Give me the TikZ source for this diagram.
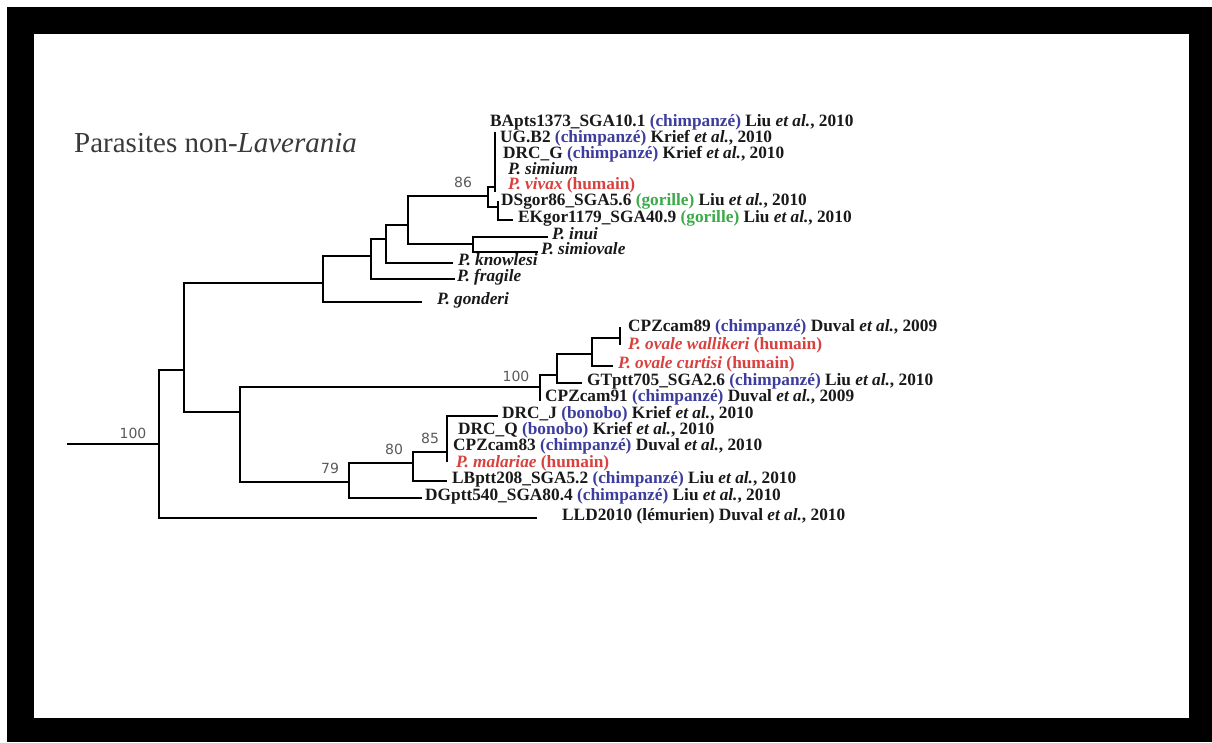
\documentclass[tikz,border=0pt]{standalone}
\usepackage{fontspec}
\setmainfont{Liberation Serif}
\newfontfamily\bsfont{DejaVu Sans}
\definecolor{chimp}{HTML}{3D3D9E}
\definecolor{hum}{HTML}{D9413F}
\definecolor{gor}{HTML}{3DAA4A}
\definecolor{ttlgray}{HTML}{3A3A3A}
\definecolor{bsgray}{HTML}{5A5A5A}
\newcommand{\etal}{\textit{et al.}}
\newcommand{\cz}{{\color{chimp}(chimpanzé)}}
\newcommand{\bo}{{\color{chimp}(bonobo)}}
\newcommand{\go}{{\color{gor}(gorille)}}
\newcommand{\pl}[1]{\textit{P. #1}}
\newcommand{\hu}[1]{{\color{hum}\pl{#1} (humain)}}
\tikzset{br/.style = {line width=2.8pt, line join=miter},
    lf/.style = {anchor=west, inner sep=0pt, text height=0.62em, text depth=0.14em,
                 font=\bfseries\fontsize{17.3}{18}\selectfont, text=black!90},
    bv/.style = {font=\bsfont\fontsize{14}{14}\selectfont, text=bsgray},
    nd/.style = {coordinate}}

\begin{document}
\begin{tikzpicture}[x=1pt, y=-1pt]
        \fill[white] (0,0) rectangle (1212,742);
        \fill[black] (7,7) rectangle (1212,742);
        \fill[white] (34,34) rectangle (1189,718);
        \useasboundingbox (0,0) rectangle (1212,742);

        \node[anchor=west, inner sep=0pt, font=\fontsize{29}{30}\selectfont, text=ttlgray]
            (title) at (74,143) {Parasites non-\textit{Laverania}};

        % internal nodes
        \foreach \n/\x/\y in {r0/67/444, r/159/444, A/184/370, P/323/283, P1/371/256,
                P2/386/239, P3/408/225, I/473/244, n86/488/196, vj/495/187, vt/495/132,
                vb/495/192, dj/498/207, dt/498/201, O/240/412, n100/540/387, n100b/540/401,
                O1/557/375, O2/592/354, O3/620/338, o3t/620/327, o3b/620/345,
                n79/349/482, n80/413/463, n85/447/452, n85b/447/462}
            \node[nd] (\n) at (\x,\y) {};

        % leaves
        \foreach \n/\x/\y/\t in {
                bap/490/124/{BApts1373\_SGA10.1 \cz{} Liu \etal, 2010},
                ugb/500/140/{UG.B2 \cz{} Krief \etal, 2010},
                drg/503/156/{DRC\_G \cz{} Krief \etal, 2010},
                sim/508/172/{\pl{simium}},
                viv/508/187/{\hu{vivax}},
                dsg/501/203/{DSgor86\_SGA5.6 \go{} Liu \etal, 2010},
                ekg/518/220/{EKgor1179\_SGA40.9 \go{} Liu \etal, 2010},
                inu/552/237/{\pl{inui}},
                smv/541/252/{\pl{simiovale}},
                kno/458/263/{\pl{knowlesi}},
                fra/457/279/{\pl{fragile}},
                gon/437/302/{\pl{gonderi}},
                cza/628/329/{CPZcam89 \cz{} Duval \etal, 2009},
                wal/628/347/{\hu{ovale wallikeri}},
                cur/618/366/{\hu{ovale curtisi}},
                gtp/587/383/{GTptt705\_SGA2.6 \cz{} Liu \etal, 2010},
                czb/545/399/{CPZcam91 \cz{} Duval \etal, 2009},
                drj/502/416/{DRC\_J \bo{} Krief \etal, 2010},
                drq/458/432/{DRC\_Q \bo{} Krief \etal, 2010},
                czc/453/448/{CPZcam83 \cz{} Duval \etal, 2010},
                mal/456/465/{\hu{malariae}},
                lbp/452/481/{LBptt208\_SGA5.2 \cz{} Liu \etal, 2010},
                dgp/425/498/{DGptt540\_SGA80.4 \cz{} Liu \etal, 2010},
                lld/562/518/{LLD2010 (lémurien) Duval \etal, 2010}}
            \node[lf] (\n) at (\x,\y) {\t};

        % branches
        \draw[br] (r0) -- (r);
        \foreach \a/\b in {r/A, A/P, A/O, P/P1, P1/P2, P2/P3, P3/n86, n86/vj, n86/dj,
                P3/I, O/n100, n100/O1, O1/O2, O2/O3, O/n79, n79/n80, n80/n85}
            \draw[br] (\a) |- (\b);
        \foreach \a/\b/\g in {r/lld/25, P/gon/15, P1/fra/2, P2/kno/5, I/inu/4, I/smv/3,
                dj/ekg/5, O2/cur/5, O1/gtp/5, n85/drj/4, n80/lbp/5, n79/dgp/3}
            \draw[br] (\a) |- ([xshift=-\g pt]\b.west);
        \foreach \a/\b in {vt/vb, dt/dj, o3t/o3b, n100/n100b, n85/n85b}
            \draw[br] (\a) -- (\b);

        % bootstrap values
        \foreach \n/\x/\y/\v in {b1/133/433/100, b2/463/182/86, b3/516/376/100,
                b4/430/438/85, b5/394/449/80, b6/330/468/79}
            \node[bv] (\n) at (\x,\y) {\v};
    \end{tikzpicture}
\end{document}
